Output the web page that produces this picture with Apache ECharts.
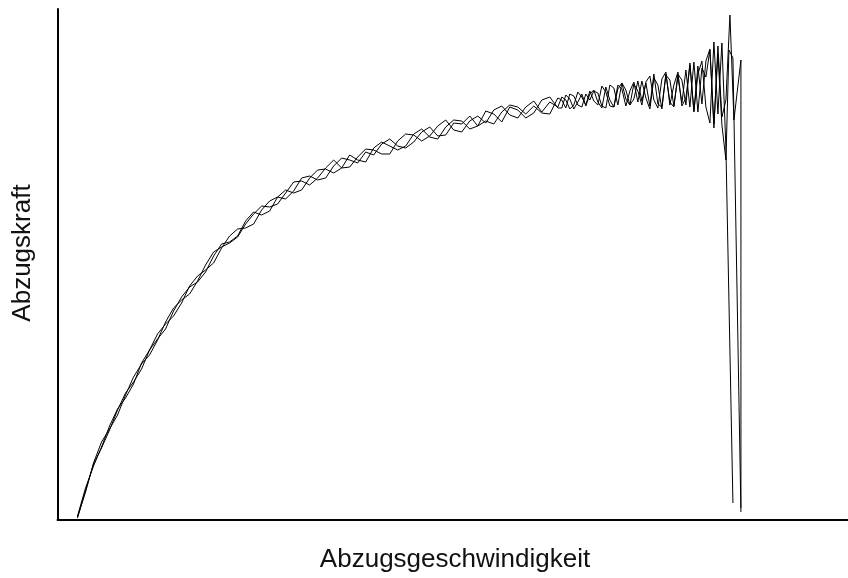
<!DOCTYPE html>
<html>
<head>
<meta charset="utf-8">
<script src="https://cdn.jsdelivr.net/npm/echarts@6/dist/echarts.min.js"></script>
<style>
  html, body { margin: 0; padding: 0; background: #fff; }
  #chart { width: 848px; height: 578px; }
</style>
</head>
<body>
<div id="chart"></div>
<script>
// pull-off speed (x) shared by the three runs
const speed = [20, 28, 36, 44, 52, 60, 68, 76, 84, 92, 100, 108, 116, 124, 132, 140, 148, 156, 164, 172,
  180, 188, 196, 204, 212, 220, 228, 236, 244, 252, 260, 268, 276, 284, 292, 300, 308, 316, 324, 332,
  340, 348, 356, 364, 372, 380, 388, 396, 404, 412, 420, 428, 436, 444, 452, 460, 468, 476, 484, 492, 500,
  504, 508, 512, 516, 520, 524, 528, 532, 536, 540, 544, 548, 552, 556, 560, 564, 568, 572, 576, 580,
  584, 588, 592, 596, 600, 604, 608, 612, 616, 620, 624, 628, 632, 636, 640, 644, 648, 652, 656, 660, 664];

// pull-off force per run
const forceA = [3, 28, 57, 78, 91, 105, 125, 143, 156, 165, 180, 198, 212, 220, 226, 239, 255, 268, 273, 277,
  283, 296, 306, 314, 313, 316, 327, 338, 339, 335, 342, 352, 360, 352, 353, 363, 371, 370, 366, 366,
  379, 386, 385, 379, 384, 394, 400, 390, 388, 399, 404, 397, 410, 414, 405, 402, 413, 419, 408, 418, 413,
  423, 420, 411, 415, 428, 423, 415, 429, 419, 415, 434, 428, 414, 413, 431, 437, 421, 415, 436, 429,
  415, 438, 444, 420, 412, 441, 448, 415, 435, 448, 414, 422, 455, 409, 446, 459, 413, 397, 478, 406, 477];
const forceB = [4, 32, 54, 73, 94, 111, 122, 136, 157, 170, 181, 191, 209, 223, 233, 238, 248, 264, 276, 278,
  284, 299, 308, 305, 309, 323, 330, 327, 330, 342, 350, 351, 347, 352, 365, 360, 358, 372, 378, 374,
  370, 374, 386, 391, 383, 381, 393, 400, 399, 391, 394, 409, 406, 398, 413, 410, 402, 407, 420, 423, 412,
  412, 425, 421, 411, 418, 426, 414, 426, 430, 418, 412, 433, 420, 413, 435, 431, 414, 429, 438, 418,
  439, 422, 411, 442, 435, 411, 446, 418, 413, 446, 440, 415, 457, 408, 454, 416, 459, 471, 392, 474, 403];
const forceC = [2, 29, 56, 72, 90, 110, 127, 138, 151, 170, 186, 196, 204, 217, 234, 244, 250, 257, 272, 284,
  291, 292, 296, 310, 319, 323, 321, 329, 342, 344, 340, 342, 354, 362, 360, 357, 368, 365, 376, 381,
  374, 372, 378, 388, 393, 384, 385, 397, 396, 404, 394, 399, 396, 408, 415, 413, 406, 414, 407, 406, 422,
  420, 412, 426, 424, 415, 413, 426, 420, 429, 427, 414, 412, 435, 432, 415, 437, 430, 415, 421, 439,
  419, 437, 414, 446, 416, 413, 445, 440, 414, 443, 417, 450, 413, 458, 408, 452, 443, 470, 396, 466, 395];

// breakdown at the end of each run
const tailSpeedA = [668, 675];
const tailForceA = [372, 17];
const tailSpeedB = [668, 672, 676, 683, 683];
const tailForceB = [420, 505, 400, 460, 12];
const tailSpeedC = [668, 671, 675, 683];
const tailForceC = [360, 470, 462, 8];

function pairs(xs, ys, tx, ty) {
  return xs.map((x, i) => [x, ys[i]]).concat(tx.map((x, i) => [x, ty[i]]));
}

const myChart = echarts.init(document.getElementById('chart'));

function run(data) {
  return {
    type: 'line',
    data: data,
    symbol: 'none',
    showSymbol: false,
    smooth: false,
    lineStyle: { width: 1, color: '#000' }
  };
}

const axisCommon = {
  type: 'value',
  axisLine: { show: true, lineStyle: { color: '#000', width: 2 } },
  axisTick: { show: false },
  axisLabel: { show: false },
  splitLine: { show: false }
};

const option = {
  animation: false,
  backgroundColor: '#fff',
  grid: { left: 57.5, right: 0, top: 9, bottom: 58 },
  xAxis: Object.assign({}, axisCommon, { min: 0, max: 790 }),
  yAxis: Object.assign({}, axisCommon, { min: 0, max: 511 }),
  graphic: [
    {
      type: 'text',
      x: 455, y: 560,
      style: {
        text: 'Abzugsgeschwindigkeit',
        font: '26px "Liberation Sans", Arial, sans-serif',
        fill: '#111',
        textAlign: 'center',
        textVerticalAlign: 'middle'
      }
    },
    {
      type: 'text',
      x: 23, y: 253,
      rotation: Math.PI / 2,
      style: {
        text: 'Abzugskraft',
        font: '26px "Liberation Sans", Arial, sans-serif',
        fill: '#111',
        textAlign: 'center',
        textVerticalAlign: 'middle'
      }
    }
  ],
  series: [
    run(pairs(speed, forceA, tailSpeedA, tailForceA)),
    run(pairs(speed, forceB, tailSpeedB, tailForceB)),
    run(pairs(speed, forceC, tailSpeedC, tailForceC))
  ]
};

myChart.setOption(option);
</script>
</body>
</html>
